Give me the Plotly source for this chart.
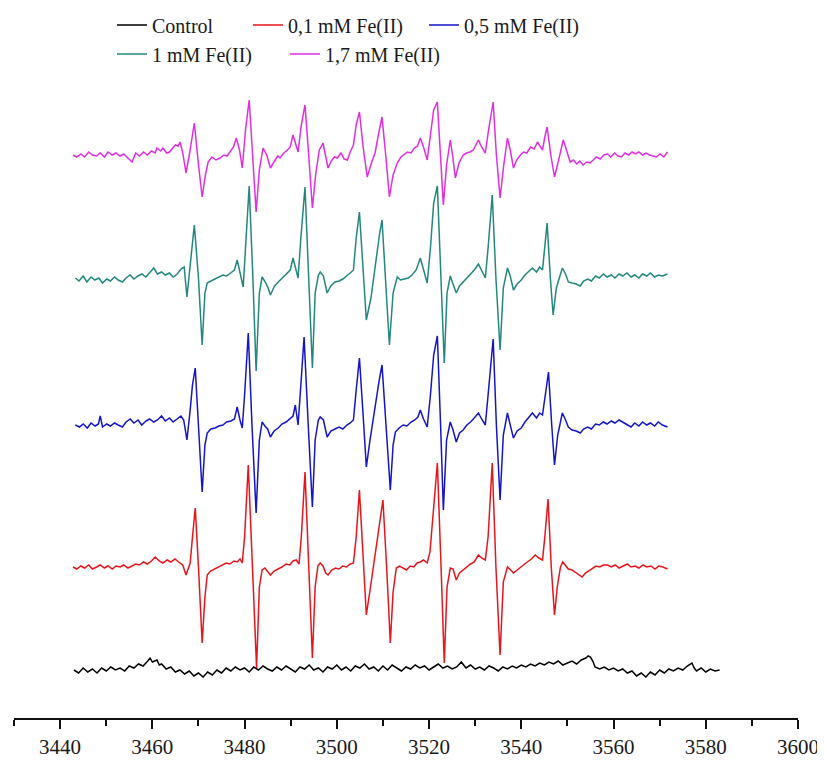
import plotly.graph_objects as go

# ---------------- data (field in G, intensity in a.u.) ----------------
names = ["Control", "0,1 mM Fe(II)", "0,5 mM Fe(II)", "1 mM Fe(II)", "1,7 mM Fe(II)"]
colors = ["#000000", "#e8141c", "#1414c8", "#23877f", "#e02ee0"]
offsets = [0, 103, 245, 392, 515]

control = [
    (3443, 0), (3444, -3), (3445, 2), (3446, -2), (3447, 1), (3448, -3), (3449, 2), (3450, -1),
    (3451, 3), (3452, 0), (3453, 2), (3454, -1), (3455, 4), (3456, 2), (3457, 6), (3458, 4),
    (3459, 9), (3459.5, 12), (3460, 8), (3461, 10), (3461.5, 5), (3462, 6), (3463, 1), (3464, 3),
    (3465, -2), (3466, 0), (3467, -4), (3468, -1), (3469, -6), (3470, -3), (3471, -7), (3472, -2),
    (3473, -5), (3474, 0), (3475, -3), (3476, 2), (3477, -1), (3478, 3), (3479, 0), (3480, 2),
    (3481, -2), (3482, 3), (3483, 0), (3484, 4), (3485, 1), (3486, -1), (3487, 3), (3488, 0),
    (3489, 4), (3490, 1), (3491, -2), (3492, 3), (3493, 1), (3494, 5), (3495, 0), (3496, 2),
    (3497, -2), (3498, 3), (3499, 1), (3500, 5), (3501, 0), (3502, 3), (3503, -1), (3504, 4),
    (3505, 2), (3506, 6), (3507, 1), (3508, 3), (3509, -1), (3510, 4), (3511, 0), (3512, 5),
    (3513, 2), (3514, -1), (3515, 3), (3516, 1), (3517, 5), (3518, 2), (3519, 4), (3520, 0),
    (3521, 3), (3522, 6), (3523, 2), (3524, 4), (3525, 1), (3526, 3), (3527, 8), (3528, 2),
    (3529, 5), (3530, 1), (3531, 3), (3532, 0), (3533, 4), (3534, 2), (3535, -1), (3536, 3),
    (3537, 1), (3538, 4), (3539, 2), (3540, 5), (3541, 3), (3542, 6), (3543, 4), (3544, 7),
    (3545, 5), (3546, 8), (3547, 6), (3548, 9), (3549, 5), (3550, 7), (3551, 9), (3552, 6),
    (3553, 10), (3554, 12), (3554.5, 14), (3555, 13), (3555.5, 9), (3556, 3), (3557, 1), (3558, 3),
    (3559, 0), (3560, 2), (3561, -1), (3562, 1), (3563, -3), (3564, -1), (3565, -6), (3566, -3),
    (3567, -7), (3568, -2), (3569, -5), (3570, 0), (3571, -3), (3572, 1), (3573, -1), (3574, 2),
    (3575, 0), (3576, 4), (3577, 7), (3577.5, 2), (3578, -1), (3579, 2), (3580, -2), (3581, 1),
    (3582, -1), (3583, 0),
]

fe_01 = [
    (3442.8, 0), (3443.6, -2), (3444.5, 1), (3445.3, -1), (3446.2, 2), (3447.0, -2), (3447.9, 0),
    (3448.7, 2), (3449.6, -1), (3450.4, 1), (3451.3, -2), (3452.1, 1), (3453.0, 0), (3453.8, 2),
    (3454.7, -1), (3455.5, 1), (3456.4, 3), (3457.2, 2), (3458.1, 5), (3458.9, 3), (3459.8, 6),
    (3460.6, 10), (3461.5, 6), (3462.3, 4), (3463.2, 7), (3464.0, 5), (3464.9, 8), (3465.7, 5),
    (3466.6, 2), (3467.3, -8), (3468.2, 4), (3468.7, 30), (3469.3, 59), (3470.0, 0), (3470.8, -76),
    (3471.4, -30), (3471.9, -8), (3472.6, -4), (3473.4, -2), (3474.3, 0), (3475.1, 2), (3476.0, 4),
    (3476.8, 3), (3477.7, 6), (3478.4, 5), (3479.0, 8), (3479.5, 4), (3480.0, 30), (3480.8, 102),
    (3481.7, 0), (3482.6, -101), (3483.2, -20), (3483.8, -3), (3484.4, -1), (3485.0, -5),
    (3485.6, -8), (3486.4, -4), (3487.3, -2), (3488.1, 0), (3489.0, 3), (3489.8, 2), (3490.5, 6),
    (3491.2, 7), (3491.8, 3), (3492.3, 30), (3493.1, 95), (3493.9, 0), (3494.7, -91), (3495.3, -20),
    (3495.9, 1), (3496.4, 4), (3497.0, 1), (3497.6, -6), (3498.1, -8), (3498.9, -3), (3499.7, -1),
    (3500.5, -2), (3501.3, 1), (3502.1, 0), (3502.9, 3), (3503.6, 4), (3504.2, 30), (3504.9, 77),
    (3505.7, 10), (3506.4, -48), (3507.3, -20), (3508.2, 10), (3509.1, 40), (3510.0, 67),
    (3510.8, 0), (3511.6, -76), (3512.2, -25), (3512.9, -1), (3513.6, 1), (3514.3, -1), (3515.1, -3),
    (3515.9, 1), (3516.7, 0), (3517.4, 4), (3518.1, 5), (3518.8, 7), (3519.6, 4), (3520.2, 15),
    (3521.0, 60), (3521.8, 104), (3522.6, 0), (3523.3, -96), (3523.9, -20), (3524.6, -1),
    (3525.2, -2), (3525.9, -13), (3526.6, -6), (3527.4, -3), (3528.2, 0), (3529.0, 3), (3529.8, 5),
    (3530.7, 12), (3531.4, 9), (3532.2, 7), (3532.8, 30), (3533.7, 104), (3534.5, 0), (3535.4, -88),
    (3536.1, -15), (3537.0, 0), (3537.7, -3), (3538.3, -6), (3539.1, -3), (3539.9, 0), (3540.6, 3),
    (3541.3, 5), (3542.2, 8), (3543.0, 12), (3543.8, 9), (3544.6, 7), (3545.1, 30), (3545.8, 68),
    (3546.5, 0), (3547.2, -48), (3547.8, -20), (3548.5, 0), (3549.0, 5), (3549.6, 2), (3550.2, -2),
    (3551.0, -3), (3551.7, -5), (3552.4, -7), (3553.2, -10), (3553.9, -6), (3554.6, -4),
    (3555.4, -1), (3556.2, 1), (3557.0, 0), (3557.8, 2), (3558.7, 2), (3559.5, 0), (3560.4, 2),
    (3561.2, -1), (3562.1, 1), (3563.0, 3), (3563.8, 0), (3564.7, 1), (3565.5, -1), (3566.4, 2),
    (3567.2, 0), (3568.1, 1), (3569.0, -2), (3569.8, 1), (3570.7, 0), (3571.7, -2),
]

fe_05 = [
    (3443.3, 0), (3444.2, -2), (3445.0, 1), (3445.9, -3), (3446.7, 2), (3447.6, -1), (3448.3, 1),
    (3448.7, 9), (3449.2, -2), (3450.1, 1), (3450.9, -1), (3451.8, 2), (3452.6, 0), (3453.5, -2),
    (3454.3, 3), (3455.2, 6), (3456.0, 2), (3456.9, 5), (3457.7, 0), (3458.6, 4), (3459.4, 6),
    (3460.3, 3), (3461.1, 5), (3462.0, 9), (3462.8, 4), (3463.7, 7), (3464.5, 3), (3465.4, 6),
    (3466.2, 9), (3466.8, 5), (3467.5, -15), (3468.2, 15), (3468.7, 40), (3469.3, 57), (3470.0, 0),
    (3470.8, -67), (3471.4, -20), (3471.9, -8), (3472.7, -4), (3473.6, -3), (3474.4, -1),
    (3475.3, 0), (3476.1, 3), (3477.0, 4), (3477.8, 6), (3478.4, 18), (3479.0, 5), (3479.5, -3),
    (3480.0, 30), (3480.8, 92), (3481.6, 0), (3482.5, -88), (3483.2, -15), (3483.8, 3),
    (3484.4, -1), (3485.0, -4), (3485.6, -12), (3486.4, -6), (3487.3, -3), (3488.1, 1), (3489.0, 3),
    (3489.8, 6), (3490.5, 9), (3491.0, 20), (3491.6, 0), (3492.2, 40), (3492.9, 88), (3493.8, 0),
    (3494.7, -82), (3495.3, -15), (3496.0, 5), (3496.4, 8), (3497.1, 5), (3497.9, -12),
    (3498.7, -6), (3499.6, -4), (3500.5, -2), (3501.3, -4), (3502.2, 0), (3502.9, 2), (3503.6, 5),
    (3504.2, 35), (3504.9, 67), (3505.7, 10), (3506.4, -42), (3507.2, -15), (3508.3, 20),
    (3509.2, 45), (3509.8, 60), (3510.7, 0), (3511.6, -65), (3512.2, -20), (3512.7, -7),
    (3513.5, -3), (3514.4, 0), (3515.2, -1), (3516.1, 3), (3516.9, 5), (3517.6, 8), (3518.1, 15),
    (3518.8, 6), (3519.6, -2), (3520.3, 30), (3521.0, 70), (3521.8, 89), (3522.5, 0),
    (3523.1, -85), (3523.8, -15), (3524.6, 3), (3525.2, -5), (3525.9, -17), (3526.6, -8),
    (3527.4, -5), (3528.2, 0), (3529.0, 3), (3529.8, 7), (3530.7, 12), (3531.4, 6), (3532.2, 0),
    (3532.8, 30), (3533.9, 86), (3534.6, 0), (3535.4, -75), (3536.1, -10), (3537.0, 12),
    (3537.6, 0), (3538.3, -13), (3539.1, -6), (3540.0, -3), (3540.8, 3), (3541.6, 8), (3542.4, 12),
    (3543.3, 7), (3544.0, 12), (3544.6, 10), (3545.2, 30), (3545.9, 53), (3546.6, 0),
    (3547.2, -40), (3547.9, -10), (3548.9, 12), (3549.6, 5), (3550.2, -2), (3551.0, -5),
    (3551.9, -6), (3552.8, -8), (3553.5, -4), (3554.4, -2), (3555.2, -4), (3556.1, 1), (3556.9, 0),
    (3557.8, 3), (3558.6, 1), (3559.5, 4), (3560.3, 2), (3561.2, 5), (3562.0, 3), (3562.9, 1),
    (3563.8, -2), (3564.6, 2), (3565.5, -1), (3566.3, 3), (3567.2, 0), (3568.0, 2), (3568.9, -1),
    (3569.7, 3), (3570.6, 0), (3571.7, -2),
]

fe_1 = [
    (3443.3, 0), (3444.1, -3), (3445.0, 2), (3445.8, -4), (3446.7, 1), (3447.5, -2), (3448.4, 0),
    (3449.2, -5), (3450.1, -1), (3450.9, -3), (3451.8, 1), (3452.6, -2), (3453.5, -4), (3454.3, 0),
    (3455.2, 3), (3456.0, -1), (3456.9, 2), (3457.7, 4), (3458.6, 1), (3459.4, 5), (3460.3, 10),
    (3461.1, 4), (3462.0, 6), (3462.8, 3), (3463.7, 5), (3464.5, 1), (3465.4, 4), (3466.2, 9),
    (3466.9, 11), (3467.5, -19), (3468.2, 15), (3468.7, 35), (3469.1, 53), (3470.0, 0),
    (3470.8, -67), (3471.4, -15), (3471.9, -5), (3472.7, -3), (3473.6, -1), (3474.4, 1),
    (3475.3, 3), (3476.1, 2), (3477.0, 5), (3477.8, 8), (3478.4, 18), (3479.0, 5), (3479.7, -9),
    (3480.2, 30), (3481.0, 92), (3481.8, 0), (3482.5, -93), (3483.2, -15), (3483.8, 1),
    (3484.5, -4), (3485.1, -10), (3485.6, -17), (3486.5, -8), (3487.3, -4), (3488.2, 0),
    (3489.0, 4), (3489.9, 8), (3490.5, 20), (3491.1, 10), (3491.6, 0), (3492.2, 40), (3493.1, 91),
    (3493.9, 0), (3494.7, -90), (3495.3, -15), (3496.0, 3), (3496.4, 6), (3497.1, 2),
    (3497.9, -15), (3498.7, -8), (3499.6, -4), (3500.5, -3), (3501.3, -1), (3502.2, 2),
    (3502.9, 5), (3503.6, 8), (3504.2, 40), (3504.9, 66), (3505.7, 10), (3506.4, -42),
    (3507.4, -20), (3508.4, 15), (3509.3, 45), (3509.8, 58), (3510.6, 0), (3511.4, -67),
    (3512.2, -15), (3513.1, 1), (3513.8, -2), (3514.6, -1), (3515.5, 0), (3516.3, 3), (3517.2, 8),
    (3518.1, 20), (3518.9, 8), (3519.6, -5), (3520.3, 30), (3521.0, 75), (3521.8, 92), (3522.5, 0),
    (3523.3, -85), (3523.9, -15), (3524.6, 2), (3525.2, -6), (3525.9, -15), (3526.6, -8),
    (3527.4, -4), (3528.2, 0), (3529.0, 4), (3529.8, 8), (3530.7, 14), (3531.4, 8), (3532.2, 0),
    (3532.8, 30), (3533.7, 83), (3534.5, 0), (3535.4, -72), (3536.1, -10), (3537.0, 10),
    (3537.6, 2), (3538.3, -12), (3539.1, -6), (3540.0, -2), (3540.8, 3), (3541.6, 7), (3542.4, 10),
    (3543.3, 6), (3544.0, 11), (3544.6, 8), (3545.0, 25), (3545.6, 55), (3546.3, 0), (3546.9, -37),
    (3547.6, -10), (3548.9, 10), (3549.6, 4), (3550.2, -4), (3551.0, -5), (3551.9, -6),
    (3552.8, -8), (3553.5, -3), (3554.4, -1), (3555.2, -3), (3556.1, 2), (3556.9, 0), (3557.8, 4),
    (3558.6, 1), (3559.5, 3), (3560.3, 0), (3561.2, 4), (3562.0, 2), (3562.9, 5), (3563.8, 1),
    (3564.6, 3), (3565.5, 0), (3566.3, 4), (3567.2, 2), (3568.0, 5), (3568.9, 1), (3569.7, 3),
    (3570.6, 2), (3571.7, 4),
]

fe_17 = [
    (3442.8, 0), (3443.6, -2), (3444.5, 1), (3445.3, -2), (3446.2, 3), (3447.0, 0), (3447.9, -1),
    (3448.7, 2), (3449.6, -2), (3450.4, 3), (3451.3, 0), (3452.1, 2), (3453.0, -1), (3453.8, 1),
    (3454.7, -3), (3455.6, -7), (3456.4, 2), (3457.2, -1), (3458.1, 3), (3458.9, 0), (3459.8, 4),
    (3460.6, 2), (3461.0, 7), (3461.8, 4), (3462.3, 7), (3463.1, 2), (3463.7, 3), (3464.3, 6),
    (3465.0, 10), (3465.6, 9), (3466.0, 13), (3466.6, 2), (3467.3, -18), (3468.2, 5), (3468.7, 22),
    (3469.1, 32), (3469.9, -5), (3470.8, -42), (3471.5, -20), (3472.1, -7), (3472.9, -2),
    (3473.8, -5), (3474.7, -3), (3475.5, 0), (3476.2, -1), (3476.9, 3), (3477.6, 8), (3478.2, 17),
    (3478.9, 5), (3479.5, -13), (3480.2, 25), (3481.0, 55), (3481.7, 0), (3482.5, -57),
    (3483.2, -15), (3484.0, 7), (3484.8, 0), (3485.6, -13), (3486.5, -6), (3487.2, -1),
    (3487.7, -3), (3488.5, 2), (3489.3, 5), (3489.9, 8), (3490.5, 20), (3491.1, 10), (3491.6, 3),
    (3492.3, 30), (3493.1, 50), (3493.9, 0), (3494.7, -53), (3495.4, -20), (3496.2, 5),
    (3497.0, 12), (3497.5, 2), (3498.1, -13), (3498.8, -6), (3499.5, -2), (3500.1, -3),
    (3500.9, 2), (3501.6, -4), (3502.3, -5), (3502.9, 3), (3503.6, 10), (3504.2, 30), (3504.9, 43),
    (3505.7, 8), (3506.6, -22), (3507.5, -8), (3508.3, 2), (3509.0, 20), (3509.8, 38), (3510.6, 0),
    (3511.4, -42), (3512.2, -20), (3513.1, -8), (3513.9, -2), (3514.6, 1), (3515.3, 3),
    (3516.1, 2), (3516.8, 7), (3517.5, 9), (3518.1, 17), (3518.8, 8), (3519.6, -5), (3520.3, 20),
    (3521.0, 45), (3521.8, 53), (3522.5, 0), (3523.1, -50), (3523.8, -10), (3524.6, 15),
    (3525.1, 0), (3525.7, -23), (3526.5, -8), (3527.4, 0), (3528.1, 2), (3528.9, 3), (3529.6, 5),
    (3530.1, 9), (3530.7, 15), (3531.4, 8), (3532.2, 2), (3532.9, 25), (3533.9, 53), (3534.6, 0),
    (3535.4, -43), (3536.2, -10), (3537.0, 17), (3537.6, 5), (3538.3, -13), (3539.0, -5),
    (3539.8, 0), (3540.5, 3), (3541.2, 2), (3542.0, 8), (3542.8, 6), (3543.5, 13), (3544.1, 9),
    (3544.6, 5), (3545.1, 18), (3545.6, 28), (3546.4, 0), (3547.2, -22), (3548.1, -5),
    (3549.1, 15), (3549.8, 5), (3550.6, -7), (3551.3, -5), (3552.0, -9), (3552.7, -6),
    (3553.4, -10), (3554.1, -7), (3554.9, -8), (3555.6, -5), (3556.3, -2), (3557.1, -4),
    (3557.9, 0), (3558.7, 1), (3559.4, -2), (3560.2, 2), (3561.0, -1), (3561.7, -2), (3562.5, 2),
    (3563.3, 0), (3564.0, 3), (3564.8, 1), (3565.5, 3), (3566.3, 0), (3567.0, 2), (3567.8, 0),
    (3568.6, -1), (3569.3, -2), (3570.1, 1), (3570.9, -2), (3571.7, 3),
]

series = [control, fe_01, fe_05, fe_1, fe_17]

x_ticks = [3440, 3460, 3480, 3500, 3520, 3540, 3560, 3580, 3600]
x_minor = [3430, 3450, 3470, 3490, 3510, 3530, 3550, 3570, 3590]

# ---------------- figure ----------------
FONT = "Liberation Serif, Times New Roman, serif"
legend_ids = ["legend", "legend2", "legend3", "legend4", "legend5"]

fig = go.Figure()
for name, col, off, data, lid in zip(names, colors, offsets, series, legend_ids):
    fig.add_trace(go.Scatter(
        x=[p[0] for p in data],
        y=[p[1] + off for p in data],
        mode="lines",
        name=name,
        line=dict(color=col, width=1.5),
        legend=lid,
    ))

# the page body adds an 8 px margin, so the figure is 8 px smaller than the window
W, H = 817, 752
legend_pos = [(104, 17), (240, 17), (416, 17), (104, 46), (277, 46)]
leg_common = dict(
    xref="container", yref="container", xanchor="left", yanchor="middle",
    orientation="h", bgcolor="rgba(0,0,0,0)", borderwidth=0,
    font=dict(family=FONT, size=20, color="#1a1a1a"),
)
layout_legends = {}
for lid, (px, py) in zip(legend_ids, legend_pos):
    layout_legends[lid] = dict(x=px / W, y=1 - py / H, **leg_common)

fig.update_layout(
    width=W, height=H,
    margin=dict(l=6, r=27, t=77, b=42, autoexpand=False),
    paper_bgcolor="white", plot_bgcolor="white",
    showlegend=True,
    **layout_legends,
)
fig.update_xaxes(
    range=[3430, 3600],
    tickvals=x_ticks,
    ticktext=[str(v) for v in x_ticks],
    automargin=False,
    ticks="outside", ticklen=9, tickwidth=2, tickcolor="#111",
    showline=True, linewidth=2, linecolor="#111",
    showgrid=False, zeroline=False,
    tickfont=dict(family=FONT, size=21, color="#1a1a1a"),
    minor=dict(tickvals=x_minor, ticks="outside", ticklen=6, tickwidth=2,
               tickcolor="#111", showgrid=False),
)
fig.update_yaxes(range=[-48, 585], visible=False, showgrid=False, zeroline=False)

fig.write_html("out.html")
